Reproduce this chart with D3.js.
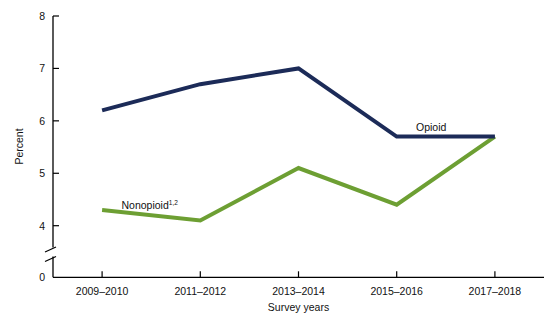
<!DOCTYPE html>
<html><head><meta charset="utf-8">
<script src="https://cdn.jsdelivr.net/npm/d3@7"></script>
<style>body{margin:0;background:#fff}svg{display:block;font-family:"Liberation Sans",Arial,sans-serif}</style>
</head><body>
<svg id="c" width="560" height="327"></svg>
<script>
const categories = ["2009–2010","2011–2012","2013–2014","2015–2016","2017–2018"];
const opioid = [6.2, 6.7, 7.0, 5.7, 5.7];
const nonopioid = [4.3, 4.1, 5.1, 4.4, 5.7];
const yTicks = [0, 4, 5, 6, 7, 8];

const svg = d3.select("#c");
const x = d3.scalePoint().domain(categories).range([53, 544]).padding(0.5);
const y = d3.scaleLinear().domain([0, 4, 8]).range([277.3, 225.7, 16]);
const fs = "10.5px";

// x axis
const xg = svg.append("g").attr("transform", "translate(0,277.3)");
xg.append("line").attr("x1", 53).attr("x2", 544).attr("stroke", "#000").attr("stroke-width", 1.3);
xg.selectAll("line.t").data(categories).join("line").attr("class","t")
  .attr("x1", d => x(d)).attr("x2", d => x(d)).attr("y1", 0).attr("y2", -6)
  .attr("stroke", "#000").attr("stroke-width", 1.2);
xg.selectAll("text").data(categories).join("text")
  .attr("x", d => x(d)).attr("y", 18).attr("text-anchor", "middle")
  .style("font-size", fs).attr("fill", "#111").text(d => d);

// y axis with break
const yg = svg.append("g");
yg.append("line").attr("x1", 53).attr("x2", 53).attr("y1", y(8)).attr("y2", 247.5).attr("stroke", "#000").attr("stroke-width", 1.3);
yg.append("line").attr("x1", 53).attr("x2", 53).attr("y1", 256.5).attr("y2", y(0)).attr("stroke", "#000").attr("stroke-width", 1.3);
yg.append("line").attr("x1", 45).attr("y1", 252).attr("x2", 56).attr("y2", 247).attr("stroke", "#000").attr("stroke-width", 1.2);
yg.append("line").attr("x1", 45).attr("y1", 261.5).attr("x2", 56).attr("y2", 256.5).attr("stroke", "#000").attr("stroke-width", 1.2);
yg.selectAll("line.t").data(yTicks.filter(d => d > 0)).join("line").attr("class","t")
  .attr("x1", 53).attr("x2", 59).attr("y1", d => y(d)).attr("y2", d => y(d))
  .attr("stroke", "#000").attr("stroke-width", 1.2);
yg.selectAll("text").data(yTicks).join("text")
  .attr("x", 45).attr("y", d => y(d) + 3.8).attr("text-anchor", "end")
  .style("font-size", fs).attr("fill", "#111").text(d => d);

// titles
svg.append("text").attr("transform", "translate(23,146.5) rotate(-90)")
  .attr("text-anchor", "middle").style("font-size", fs).attr("fill", "#111").text("Percent");
svg.append("text").attr("x", x(categories[2])).attr("y", 310.5).attr("text-anchor", "middle")
  .style("font-size", fs).attr("fill", "#111").text("Survey years");

// lines
const line = d3.line().x((d, i) => x(categories[i])).y(d => y(d));
svg.append("path").datum(nonopioid).attr("d", line).attr("fill", "none")
  .attr("stroke", "#6d9f33").attr("stroke-width", 4).attr("stroke-linejoin", "miter");
svg.append("path").datum(opioid).attr("d", line).attr("fill", "none")
  .attr("stroke", "#1c2b58").attr("stroke-width", 4).attr("stroke-linejoin", "miter");

// labels
svg.append("text").attr("x", 416).attr("y", 130.5).style("font-size", fs).attr("fill", "#111").text("Opioid");
const nt = svg.append("text").attr("x", 121.5).attr("y", 208.5).style("font-size", fs).attr("fill", "#111");
nt.append("tspan").text("Nonopioid");
nt.append("tspan").attr("dy", -4).style("font-size", "6.5px").text("1,2");
</script>
</body></html>
